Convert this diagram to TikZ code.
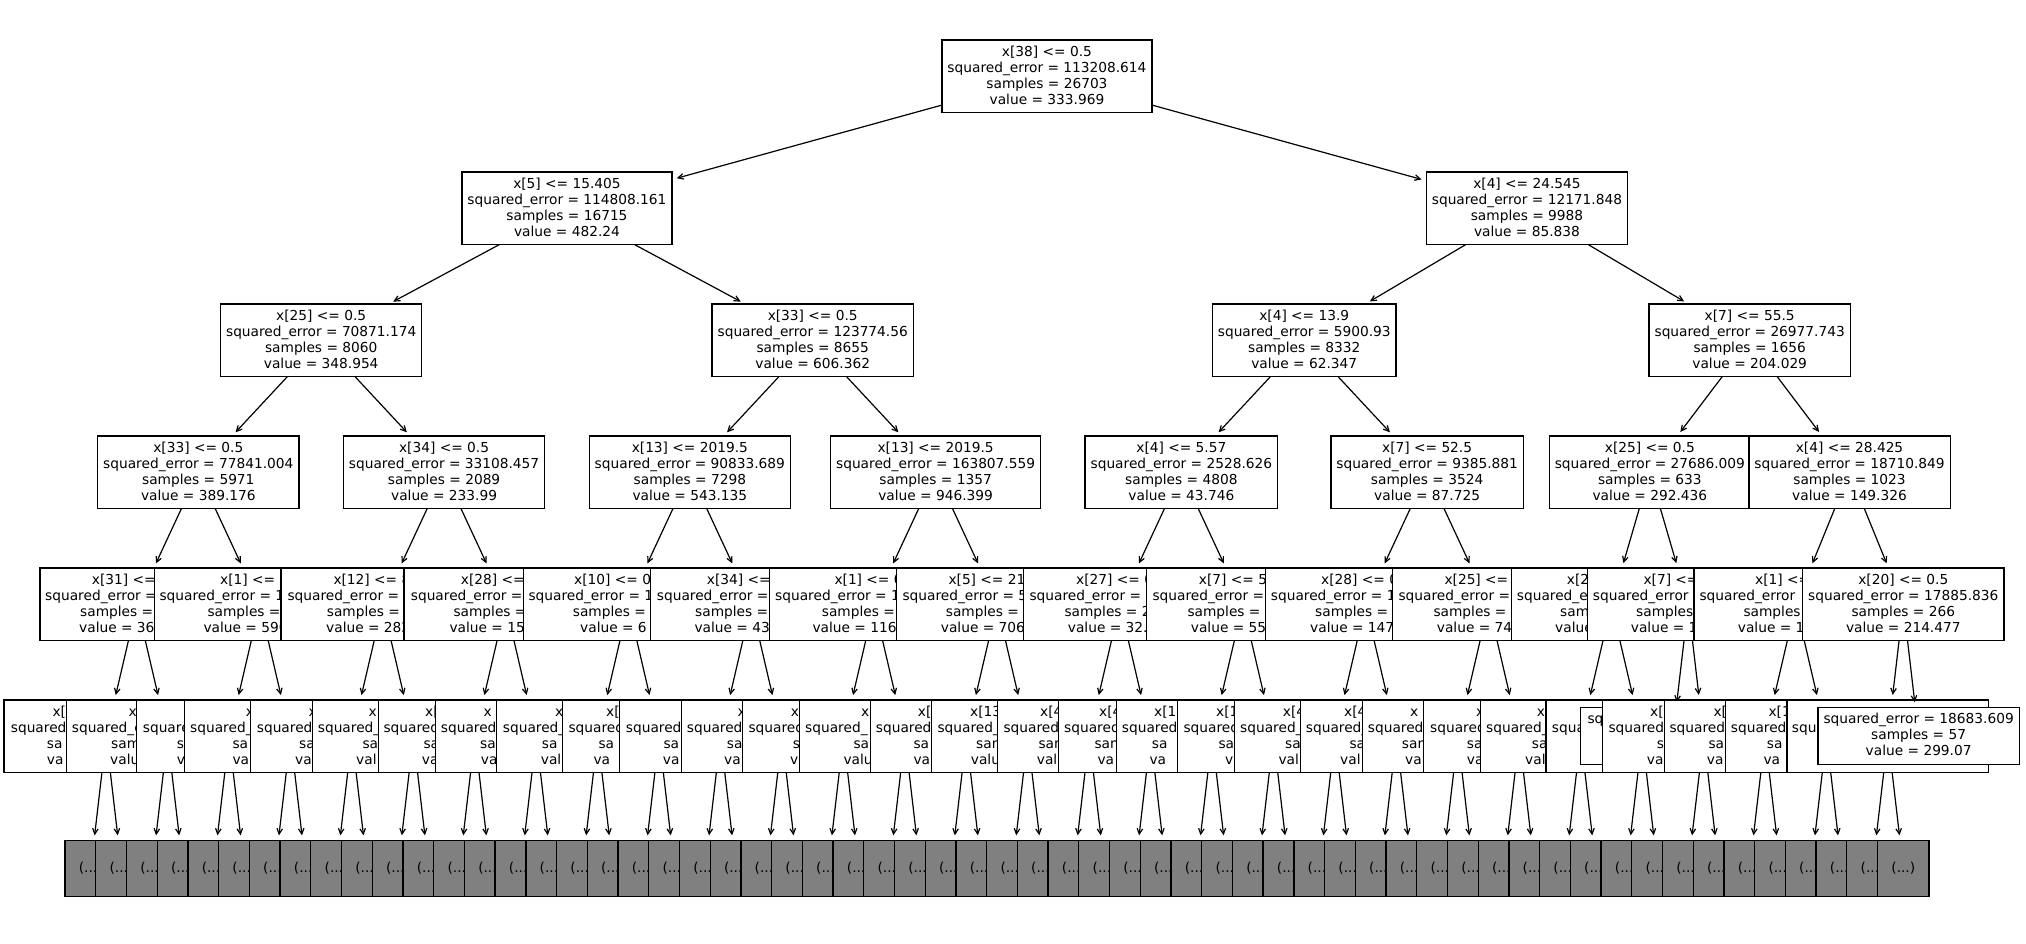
\documentclass[tikz,border=0pt]{standalone}
\usepackage{fontspec}
\setmainfont{DejaVu Sans}
\usetikzlibrary{arrows.meta}
\pgfdeclarelayer{bg}
\pgfdeclarelayer{d6}
\pgfdeclarelayer{d5}
\pgfdeclarelayer{d4}
\pgfdeclarelayer{d3}
\pgfdeclarelayer{d2}
\pgfdeclarelayer{d1}
\pgfdeclarelayer{d0}
\pgfsetlayers{bg,d6,d5,d4,d3,d2,d1,d0,main}
\newcommand\sr{\rule[-3.5pt]{0pt}{14.5pt}}
\tikzset{
  fnt/.style={font=\fontsize{13.74pt}{16pt}\selectfont},
  box/.style={draw, line width=1.3pt, fill=white, inner sep=0pt, outer sep=0pt, minimum height=72.7pt},
  full/.style={box, fnt, align=center, inner xsep=5.5pt},
  leafbox/.style={box, fnt, align=center, inner xsep=5.5pt, minimum height=57pt},
  greybox/.style={box, fnt, fill=gray, align=center, minimum height=56pt, minimum width=51.5pt},
  frag/.style={fnt, inner sep=0pt, anchor=base west},
  arr/.style={line width=1.2pt, -{Straight Barb[length=5.5pt,width=5.5pt]}, shorten >=5pt},
}
% full box: name, g, depth, parent, four lines
\newcommand\FB[8]{%
\begin{pgfonlayer}{d#3}
\node[full] (#1) at ({90.8+30.72*(#2)},{76.3+132*#3}) {\sr #5\\\sr #6\\\sr #7\\\sr #8};
\if\relax\detokenize{#4}\relax\else\draw[arr] (#4) -- (#1);\fi
\end{pgfonlayer}}
% partly hidden box: name, g, depth, parent, half width, visible line fragments
\newcommand\HB[6]{%
\begin{pgfonlayer}{d#3}
\node[box, minimum width={2*(#5)}] (#1) at ({90.8+30.72*(#2)},{76.3+132*#3}) {};
\foreach \xs/\tx [count=\i] in {#6} {\node[frag] (#1-\i) at (\xs,{76.3+132*#3-20.25+16*(\i-1)}) {\sr\tx};}
\draw[arr] (#4) -- (#1);
\end{pgfonlayer}}
\begin{document}
\begin{tikzpicture}[x=1pt,y=-1pt]
\begin{pgfonlayer}{bg}
\fill[white] (0,0) rectangle (2026,944);
\end{pgfonlayer}
\useasboundingbox (0,0) rectangle (2026,944);
% depth 0-3
\FB{root}{31.125}{0}{}{x[38] <= 0.5}{squared\_error = 113208.614}{samples = 26703}{value = 333.969}
\FB{a1}{15.5}{1}{root}{x[5] <= 15.405}{squared\_error = 114808.161}{samples = 16715}{value = 482.24}
\FB{a2}{46.75}{1}{root}{x[4] <= 24.545}{squared\_error = 12171.848}{samples = 9988}{value = 85.838}
\FB{b1}{7.5}{2}{a1}{x[25] <= 0.5}{squared\_error = 70871.174}{samples = 8060}{value = 348.954}
\FB{b2}{23.5}{2}{a1}{x[33] <= 0.5}{squared\_error = 123774.56}{samples = 8655}{value = 606.362}
\FB{b3}{39.5}{2}{a2}{x[4] <= 13.9}{squared\_error = 5900.93}{samples = 8332}{value = 62.347}
\FB{b4}{54}{2}{a2}{x[7] <= 55.5}{squared\_error = 26977.743}{samples = 1656}{value = 204.029}
\FB{c1}{3.5}{3}{b1}{x[33] <= 0.5}{squared\_error = 77841.004}{samples = 5971}{value = 389.176}
\FB{c2}{11.5}{3}{b1}{x[34] <= 0.5}{squared\_error = 33108.457}{samples = 2089}{value = 233.99}
\FB{c3}{19.5}{3}{b2}{x[13] <= 2019.5}{squared\_error = 90833.689}{samples = 7298}{value = 543.135}
\FB{c4}{27.5}{3}{b2}{x[13] <= 2019.5}{squared\_error = 163807.559}{samples = 1357}{value = 946.399}
\FB{c5}{35.5}{3}{b3}{x[4] <= 5.57}{squared\_error = 2528.626}{samples = 4808}{value = 43.746}
\FB{c6}{43.5}{3}{b3}{x[7] <= 52.5}{squared\_error = 9385.881}{samples = 3524}{value = 87.725}
\FB{c7}{50.75}{3}{b4}{x[25] <= 0.5}{squared\_error = 27686.009}{samples = 633}{value = 292.436}
\FB{c8}{57.25}{3}{b4}{x[4] <= 28.425}{squared\_error = 18710.849}{samples = 1023}{value = 149.326}
% depth 4
\HB{n1}{1.5}{4}{c1}{96.9}{91.7/{x[31] <=}, 45/{squared\_error =}, 80/{samples =}, 79/{value = 36}}
\HB{n2}{5.5}{4}{c1}{105.5}{220/{x[1] <= 0}, 159.3/{squared\_error = 1}, 207.3/{samples =}, 203.3/{value = 590}}
\HB{n3}{9.5}{4}{c2}{101.7}{333.3/{x[12] <= 8}, 287.3/{squared\_error =}, 326.7/{samples =}, 326/{value = 282}}
\HB{n4}{13.5}{4}{c2}{101.5}{460.7/{x[28] <=}, 410.7/{squared\_error =}, 453.3/{samples =}, 449.3/{value = 15}}
\HB{n5}{17.5}{4}{c3}{105.1}{574/{x[10] <= 0}, 528.3/{squared\_error = 1}, 572.7/{samples =}, 580/{value = 6}}
\HB{n6}{21.5}{4}{c3}{100.6}{706.7/{x[34] <=}, 656.7/{squared\_error =}, 695/{samples =}, 694.3/{value = 43}}
\HB{n7}{25.5}{4}{c4}{104.9}{834.3/{x[1] <= 0}, 775/{squared\_error = 1}, 821.7/{samples =}, 812.3/{value = 116}}
\HB{n8}{29.5}{4}{c4}{100.3}{948.3/{x[5] <= 21}, 902.3/{squared\_error = 5}, 945.7/{samples =}, 940.7/{value = 706}}
\HB{n9}{33.5}{4}{c5}{96.6}{1076/{x[27] <= 0}, 1029.3/{squared\_error =}, 1064.3/{samples = 2}, 1067.7/{value = 32.}}
\HB{n10}{37.5}{4}{c5}{96.1}{1198.7/{x[7] <= 5}, 1152.3/{squared\_error =}, 1187.3/{samples =}, 1190.7/{value = 55}}
\HB{n11}{41.5}{4}{c6}{100}{1321/{x[28] <= 0}, 1270.7/{squared\_error = 1}, 1315/{samples =}, 1310/{value = 147}}
\HB{n12}{45.5}{4}{c6}{95.9}{1444.3/{x[25] <=}, 1398.3/{squared\_error =}, 1433.3/{samples =}, 1436.7/{value = 74}}
\HB{n13}{49.5}{4}{c7}{99.7}{1566.7/{x[2}, 1516.7/{squared\_e}, 1560/{sam}, 1555/{value}}
\HB{n14}{52}{4}{c7}{100.5}{1643.3/{x[7] <=}, 1592.7/{squared\_error}, 1636/{samples}, 1630.7/{value = 1}}
\HB{n15}{55.5}{4}{c8}{101.8}{1755/{x[1] <=}, 1699.3/{squared\_error}, 1743.3/{samples}, 1737.7/{value = 1}}
\FB{n16}{59}{4}{c8}{x[20] <= 0.5}{squared\_error = 17885.836}{samples = 266}{value = 214.477}
% depth 5
\HB{d0}{0.5}{5}{n1}{102.2}{52.3/{x[}, 10.7/{squared}, 46.7/{sa}, 46.7/{va}}
\HB{d1}{2.5}{5}{n1}{100.9}{128.3/{x}, 71.7/{squared\_e}, 111/{sam}, 110/{valu}}
\HB{d2}{4.5}{5}{n2}{92.3}{190/{}, 142.7/{square}, 176.7/{s}, 176.7/{v}}
\HB{d3}{6.5}{5}{n2}{106.2}{245.7/{x}, 190/{squared\_}, 232.3/{sa}, 232.3/{va}}
\HB{d4}{8.5}{5}{n3}{101.2}{308.3/{x}, 256.7/{squared}, 299/{sa}, 295/{va}}
\HB{d5}{10.5}{5}{n3}{100.7}{368.3/{x}, 317.7/{squared\_}, 362.3/{sa}, 356/{val}}
\HB{d6}{12.5}{5}{n4}{96.5}{425/{x[}, 383.3/{squared}, 423.3/{sa}, 421.7/{va}}
\HB{d7}{14.5}{5}{n4}{100.5}{483.3/{x}, 440.7/{squared}, 480/{sa}, 480.7/{va}}
\HB{d8}{16.5}{5}{n5}{101}{555/{x}, 502.7/{squared\_}, 541.7/{sa}, 540.7/{val}}
\HB{d9}{18.5}{5}{n5}{96.4}{606/{x[}, 568.3/{squared}, 598.3/{sa}, 593.3/{va}}
\HB{d10}{20.5}{5}{n6}{101.3}{690/{}, 625.7/{squared}, 663.3/{sa}, 662.7/{va}}
\HB{d11}{22.5}{5}{n6}{100.3}{737.3/{x}, 686.7/{squared}, 726.7/{sa}, 724/{va}}
\HB{d12}{24.5}{5}{n7}{100.7}{790.7/{x}, 748.3/{squared}, 792.7/{s}, 790/{v}}
\HB{d13}{26.5}{5}{n7}{105.6}{861/{x[}, 805/{squared\_}, 853.3/{sa}, 843.3/{valu}}
\HB{d14}{28.5}{5}{n8}{95.6}{917.7/{x[}, 875.7/{squared}, 913.3/{sa}, 913.3/{va}}
\HB{d15}{30.5}{5}{n8}{96.1}{970/{x[13}, 937.3/{squared\_}, 976/{sam}, 970.7/{valu}}
\HB{d16}{32.5}{5}{n9}{91.5}{1040/{x[4}, 1003.3/{squared}, 1038.3/{sam}, 1036.7/{val}}
\HB{d17}{34.5}{5}{n9}{91.9}{1099/{x[4}, 1064/{squared}, 1094.3/{sam}, 1097.3/{va}}
\HB{d18}{36.5}{5}{n10}{95.4}{1154/{x[1}, 1121.7/{squared}, 1151.7/{sa}, 1149.3/{va}}
\HB{d19}{38.5}{5}{n10}{96.2}{1216/{x[1}, 1183.3/{squared}, 1218.3/{sa}, 1225/{v}}
\HB{d20}{40.5}{5}{n11}{100.7}{1282.7/{x[4}, 1240/{squared\_}, 1285/{sa}, 1278.3/{val}}
\HB{d21}{42.5}{5}{n11}{95.7}{1344/{x[4}, 1305.7/{squared\_}, 1349.3/{sa}, 1340/{val}}
\HB{d22}{44.5}{5}{n12}{95.5}{1410/{x}, 1367.7/{squared}, 1401.7/{sam}, 1405/{va}}
\HB{d23}{46.5}{5}{n12}{96}{1476/{x}, 1430/{squared}, 1466.7/{sa}, 1466.7/{va}}
\HB{d24}{48.5}{5}{n13}{100}{1536.7/{x}, 1486/{squared\_}, 1531.7/{sa}, 1525/{val}}
\HB{d25}{50.5}{5}{n13}{96.2}{1590/{}, 1551.7/{squa}, 1590/{}, 1590/{}}
\begin{pgfonlayer}{d5}
\node[box, minimum height=57pt, minimum width=184.4pt] (l1) at ({90.8+30.72*51.5},735.8) {};
\node[frag] (l1-1) at (1587.3,723.55) {\sr sq};
\draw[arr] (n14) -- (l1);
\end{pgfonlayer}
\HB{d26}{52.5}{5}{n14}{100.9}{1650/{x[}, 1608.3/{squared}, 1656.7/{s}, 1646.7/{va}}
\HB{d27}{54.5}{5}{n15}{100.7}{1713.3/{x[}, 1669.3/{squared}, 1708.3/{sa}, 1706.7/{va}}
\HB{d28}{56.5}{5}{n15}{101.2}{1768.3/{x[1}, 1730.7/{squared}, 1766.7/{sa}, 1763.3/{va}}
\HB{d29}{58.5}{5}{n16}{100.8}{1835/{}, 1791.7/{squ}, 1835/{}, 1835/{}}
\begin{pgfonlayer}{d5}
\node[leafbox] (l2) at ({90.8+30.72*59.5},735.8) {\sr squared\_error = 18683.609\\\sr samples = 57\\\sr value = 299.07};
\draw[arr] (n16) -- (l2);
\end{pgfonlayer}
% depth 6: truncated subtrees
\begin{pgfonlayer}{d6}
\foreach \g in {0,...,59}{
  \pgfmathtruncatemacro\p{int(\g/2)}
  \node[greybox] (g\g) at ({90.8+30.72*\g},868.3) {\sr\\\sr(...)\\\sr};
  \draw[arr] (d\p) -- (g\g);
}
\end{pgfonlayer}
\end{tikzpicture}
\end{document}
